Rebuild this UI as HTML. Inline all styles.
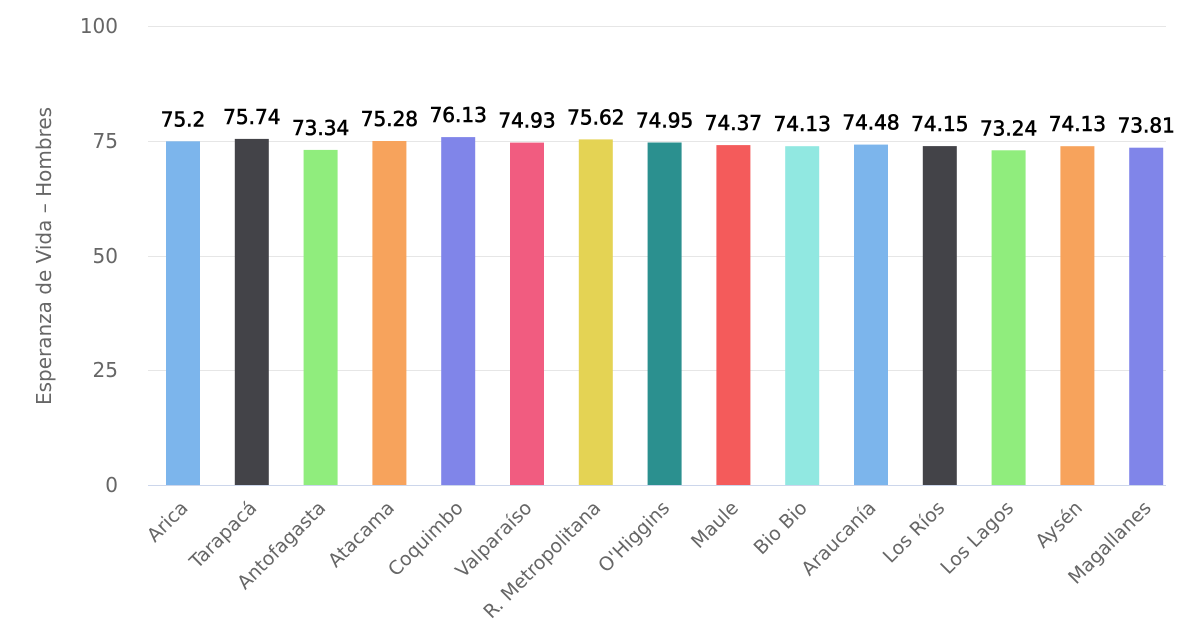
<!DOCTYPE html>
<html><head><meta charset="utf-8"><style>
html,body{margin:0;padding:0;background:#fff;}
svg{display:block;font-family:"DejaVu Sans","Liberation Sans",sans-serif;}
</style></head><body>
<svg width="1200" height="640" viewBox="0 0 1200 640" xmlns="http://www.w3.org/2000/svg">
<g stroke="#e6e6e6" stroke-width="1">
<line x1="148" y1="26.5" x2="1166" y2="26.5"/>
<line x1="148" y1="141.5" x2="1166" y2="141.5"/>
<line x1="148" y1="256.5" x2="1166" y2="256.5"/>
<line x1="148" y1="370.5" x2="1166" y2="370.5"/>
</g>
<g fill="#666" font-size="20" text-anchor="end">
<text x="118" y="33">100</text>
<text x="118" y="148">75</text>
<text x="118" y="263">50</text>
<text x="118" y="377">25</text>
<text x="118" y="492">0</text>
</g>
<text transform="translate(51,256) rotate(-90)" text-anchor="middle" fill="#666" font-size="20">Esperanza de Vida – Hombres</text>
<g>
<rect x="166" y="141.3" width="34" height="343.7" fill="#7cb5ec"/>
<rect x="234.8" y="138.9" width="34" height="346.1" fill="#434348"/>
<rect x="303.6" y="149.9" width="34" height="335.1" fill="#90ed7d"/>
<rect x="372.4" y="141" width="34" height="344" fill="#f7a35c"/>
<rect x="441.2" y="137.1" width="34" height="347.9" fill="#8085e9"/>
<rect x="510" y="142.6" width="34" height="342.4" fill="#f15c80"/>
<rect x="578.8" y="139.4" width="34" height="345.6" fill="#e4d354"/>
<rect x="647.6" y="142.5" width="34" height="342.5" fill="#2b908f"/>
<rect x="716.4" y="145.1" width="34" height="339.9" fill="#f45b5b"/>
<rect x="785.2" y="146.2" width="34" height="338.8" fill="#91e8e1"/>
<rect x="854" y="144.6" width="34" height="340.4" fill="#7cb5ec"/>
<rect x="922.8" y="146.1" width="34" height="338.9" fill="#434348"/>
<rect x="991.6" y="150.3" width="34" height="334.7" fill="#90ed7d"/>
<rect x="1060.4" y="146.2" width="34" height="338.8" fill="#f7a35c"/>
<rect x="1129.2" y="147.7" width="34" height="337.3" fill="#8085e9"/>
</g>
<line x1="148" y1="485.5" x2="1166" y2="485.5" stroke="#ccd6eb" stroke-width="1"/>
<g text-anchor="middle" font-size="20" fill="#000" stroke="#000" stroke-width="0.6">
<text x="183" y="126.3">75.2</text>
<text x="251.8" y="123.9">75.74</text>
<text x="320.6" y="134.9">73.34</text>
<text x="389.4" y="126">75.28</text>
<text x="458.2" y="122.1">76.13</text>
<text x="527" y="127.6">74.93</text>
<text x="595.8" y="124.4">75.62</text>
<text x="664.6" y="127.5">74.95</text>
<text x="733.4" y="130.1">74.37</text>
<text x="802.2" y="131.2">74.13</text>
<text x="871" y="129.6">74.48</text>
<text x="939.8" y="131.1">74.15</text>
<text x="1008.6" y="135.3">73.24</text>
<text x="1077.4" y="131.2">74.13</text>
<text x="1146.2" y="132.7">73.81</text>
</g>
<g text-anchor="end" font-size="19" fill="#666">
<text transform="translate(189,509) rotate(-45)">Arica</text>
<text transform="translate(257.8,509) rotate(-45)">Tarapacá</text>
<text transform="translate(326.6,509) rotate(-45)">Antofagasta</text>
<text transform="translate(395.4,509) rotate(-45)">Atacama</text>
<text transform="translate(464.2,509) rotate(-45)">Coquimbo</text>
<text transform="translate(533,509) rotate(-45)">Valparaíso</text>
<text transform="translate(601.8,509) rotate(-45)">R. Metropolitana</text>
<text transform="translate(670.6,509) rotate(-45)">O'Higgins</text>
<text transform="translate(739.4,509) rotate(-45)">Maule</text>
<text transform="translate(808.2,509) rotate(-45)">Bio Bio</text>
<text transform="translate(877,509) rotate(-45)">Araucanía</text>
<text transform="translate(945.8,509) rotate(-45)">Los Ríos</text>
<text transform="translate(1014.6,509) rotate(-45)">Los Lagos</text>
<text transform="translate(1083.4,509) rotate(-45)">Aysén</text>
<text transform="translate(1152.2,509) rotate(-45)">Magallanes</text>
</g>
</svg>
</body></html>
